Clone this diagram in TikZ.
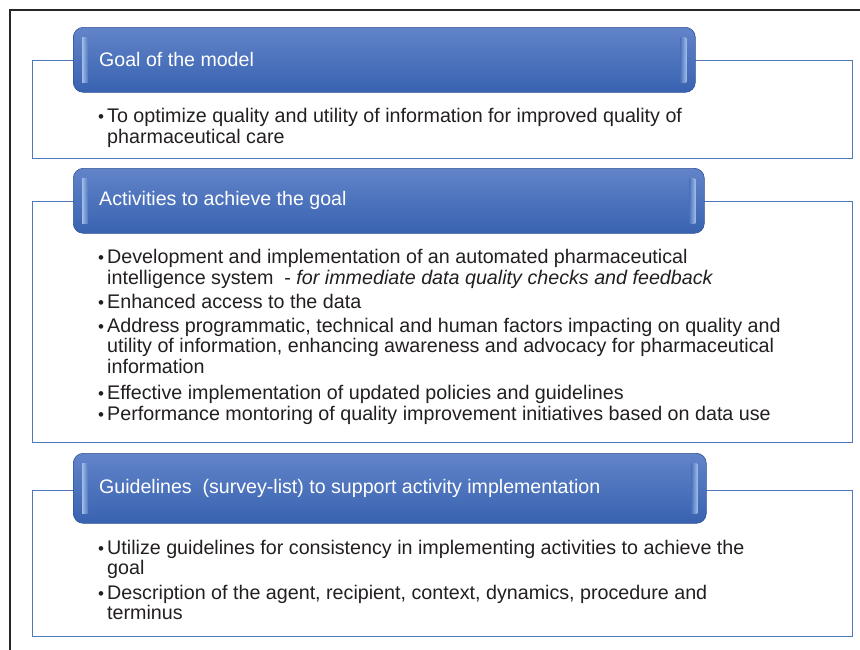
\documentclass[tikz,border=0pt]{standalone}
\usepackage{fontspec}
\setmainfont{Liberation Sans}
\usepackage{tikz}
\usetikzlibrary{positioning,calc}
\definecolor{headtop}{RGB}{98,132,201}
\definecolor{headbot}{RGB}{56,98,176}
\definecolor{boxline}{RGB}{80,119,188}
\definecolor{glosscol}{RGB}{160,190,232}
\definecolor{txt}{RGB}{35,31,32}
\tikzstyle{frame} = [draw=black!85, line width=1.2pt]
\tikzstyle{bodybox} = [rectangle, draw=boxline, line width=1.4pt, fill=white, anchor=north west, inner sep=0pt]
\tikzstyle{header} = [rectangle, rounded corners=10pt, draw=headbot!85!black, line width=0.6pt, top color=headtop, bottom color=headbot, anchor=north west, inner sep=0pt]
\tikzstyle{gloss} = [left color=glosscol, right color=headtop!60!headbot]
\tikzstyle{glossr} = [left color=headtop!60!headbot, right color=glosscol]
\tikzstyle{title} = [text=white, font=\fontsize{19.6}{19.6}\selectfont, inner sep=0pt, anchor=west]
\tikzstyle{item} = [text=txt, font=\fontsize{19.7}{20.5}\selectfont, inner sep=0pt, anchor=base west, align=left]
\newcommand{\bul}{\llap{{\fontsize{17}{17}\selectfont\textbullet}\hspace{3pt}}}

\begin{document}
\begin{tikzpicture}[x=1pt, y=-1pt]
    \useasboundingbox (0,0) rectangle (860,649);
    \draw[frame] (10,652) -- (10,10) -- (864,10);
    % goal
    \node[bodybox, minimum width=819.5, minimum height=98] (goalbody) at (32,59.5) {};
    \node[header, minimum width=622, minimum height=65] (goalhead) at (73,27) {};
    \fill[gloss] ($(goalhead.north west)+(9,10)$) rectangle ($(goalhead.south west)+(15,-10)$);
    \fill[glossr] ($(goalhead.north east)+(-15,10)$) rectangle ($(goalhead.south east)+(-9,-10)$);
    \node[title, right=26pt of goalhead.west] (goaltitle) {Goal of the model};
    % base anchor = last line
    \node[item] (g1) at (107,143) {\bul To optimize quality and utility of information for improved quality of\\pharmaceutical care};
    % activities
    \node[bodybox, minimum width=819.5, minimum height=241] (actbody) at (32,201) {};
    \node[header, minimum width=631, minimum height=65] (acthead) at (73,168) {};
    \fill[gloss] ($(acthead.north west)+(9,10)$) rectangle ($(acthead.south west)+(15,-10)$);
    \fill[glossr] ($(acthead.north east)+(-15,10)$) rectangle ($(acthead.south east)+(-9,-10)$);
    \node[title, right=26pt of acthead.west] (acttitle) {Activities to achieve the goal};
    \node[item] (a1) at (107,284) {\bul Development and implementation of an automated pharmaceutical\\intelligence system\hspace{0.55em}- \textit{for immediate data quality checks and feedback}};
    \node[item] (a2) at (107,308) {\bul Enhanced access to the data};
    \node[item] (a3) at (107,373) {\bul Address programmatic, technical and human factors impacting on quality and\\utility of information, enhancing awareness and advocacy for pharmaceutical\\information};
    \node[item] (a4) at (107,399) {\bul Effective implementation of updated policies and guidelines};
    \node[item] (a5) at (107,420.5) {\bul Performance montoring of quality improvement initiatives based on data use};
    % guidelines
    \node[bodybox, minimum width=819.5, minimum height=146] (guidebody) at (32,490) {};
    \node[header, minimum width=633, minimum height=70] (guidehead) at (73,453) {};
    \fill[gloss] ($(guidehead.north west)+(9,10)$) rectangle ($(guidehead.south west)+(15,-10)$);
    \fill[glossr] ($(guidehead.north east)+(-15,10)$) rectangle ($(guidehead.south east)+(-9,-10)$);
    \node[title, right=26pt of guidehead.west] (guidetitle) {Guidelines\ \ (survey-list) to support activity implementation};
    \node[item] (s1) at (107,574.5) {\bul Utilize guidelines for consistency in implementing activities to achieve the\\goal};
    \node[item] (s2) at (107,619.5) {\bul Description of the agent, recipient, context, dynamics, procedure and\\terminus};
\end{tikzpicture}
\end{document}
